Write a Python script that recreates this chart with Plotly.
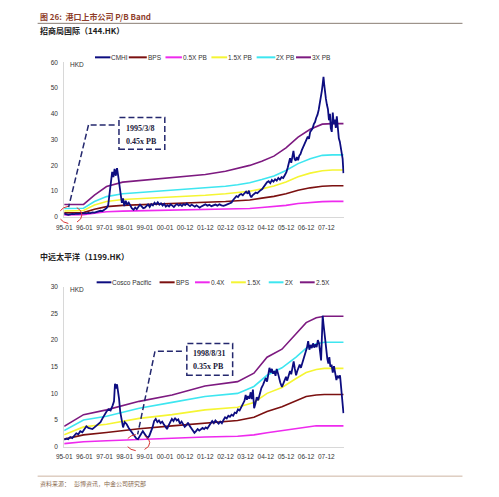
import plotly.graph_objects as go

# ---------------- data ----------------
period_labels = ["95-01", "96-01", "97-01", "98-01", "99-01", "00-01", "00-12",
                 "01-12", "02-12", "03-12", "04-12", "05-12", "06-12", "07-12"]
period_pos = list(range(len(period_labels)))

cmhi_t = [0.0, 0.1, 0.2, 0.3, 0.4, 0.5, 0.6, 0.7, 0.8, 0.9, 1.0, 1.1, 1.2, 1.3, 1.4, 1.5, 1.6, 1.7, 1.8, 1.9,
          2.0, 2.1, 2.18, 2.25, 2.32, 2.38, 2.44, 2.5, 2.56, 2.62, 2.68, 2.74, 2.8, 2.86, 2.92, 2.98, 3.05, 3.12,
          3.2, 3.28, 3.36, 3.44, 3.52, 3.6, 3.68, 3.76, 3.84, 3.92, 4.0, 4.08, 4.16, 4.24, 4.32, 4.4, 4.48, 4.56,
          4.64, 4.72, 4.8, 4.88, 4.96, 5.04, 5.12, 5.2, 5.28, 5.36, 5.44, 5.52, 5.6, 5.68, 5.76, 5.84, 5.92, 6.0,
          6.08, 6.16, 6.24, 6.32, 6.4, 6.48, 6.56, 6.64, 6.72, 6.8, 6.9, 7.0, 7.1, 7.2, 7.3, 7.4, 7.5, 7.6, 7.7,
          7.8, 7.9, 8.0, 8.1, 8.2, 8.3, 8.38, 8.46, 8.54, 8.62, 8.7, 8.78, 8.86, 8.94, 9.02, 9.1, 9.16, 9.22,
          9.28, 9.34, 9.42, 9.5, 9.58, 9.66, 9.74, 9.82, 9.9, 9.98, 10.06, 10.14, 10.22, 10.3, 10.38, 10.46,
          10.54, 10.62, 10.7, 10.78, 10.86, 10.94, 11.02, 11.08, 11.14, 11.2, 11.26, 11.32, 11.37, 11.42, 11.48,
          11.54, 11.6, 11.66, 11.72, 11.78, 11.84, 11.9, 11.96, 12.02, 12.08, 12.14, 12.2, 12.26, 12.32, 12.38,
          12.44, 12.5, 12.56, 12.62, 12.68, 12.74, 12.78, 12.82, 12.86, 12.9, 12.94, 12.98, 13.03, 13.08, 13.13,
          13.18, 13.22, 13.27, 13.32, 13.37, 13.42, 13.47, 13.52, 13.57, 13.62, 13.67, 13.72, 13.77, 13.81, 13.85]
cmhi_price = [1.3, 1.1, 0.8, 1.0, 1.2, 1.1, 1.3, 1.2, 1.4, 1.3, 1.5, 1.4, 1.6, 1.5, 1.8, 1.7, 2.0, 2.1, 2.4, 2.3,
              2.8, 3.4, 4.5, 8.5, 14.0, 17.5, 15.5, 18.6, 16.0, 18.9, 15.8, 11.5, 8.0, 5.5, 7.2, 4.2, 6.3, 4.8,
              5.6, 4.2, 3.3, 2.8, 3.6, 3.0, 3.9, 4.8, 4.1, 3.4, 3.6, 4.2, 4.9, 3.9, 5.0, 4.5, 5.5, 4.9,
              5.7, 4.8, 5.3, 4.4, 5.1, 4.0, 4.6, 4.1, 4.9, 4.4, 3.9, 4.6, 5.0, 4.4, 4.9, 4.3, 5.0, 4.6,
              5.2, 4.7, 4.2, 4.8, 4.4, 4.0, 4.5, 4.0, 3.6, 4.1, 4.5, 4.9, 4.4, 4.7, 4.2, 4.5, 4.8, 4.4, 4.9,
              4.5, 4.3, 4.6, 4.9, 5.3, 5.6, 6.6, 7.6, 8.1, 7.7, 8.6, 8.9, 8.4, 9.2, 9.8, 9.0, 10.2, 8.5,
              7.6, 8.4, 8.9, 9.5, 9.2, 10.0, 10.4, 10.8, 11.6, 12.8, 13.5, 13.9, 13.1, 14.3, 13.7, 14.6,
              14.1, 15.1, 14.5, 15.4, 15.1, 16.2, 17.4, 19.0, 20.5, 22.8, 21.0, 24.0, 25.6, 22.6, 21.8,
              23.2, 22.0, 23.8, 24.4, 25.8, 26.9, 27.8, 28.6, 29.8, 31.2, 30.3, 33.0, 33.6, 34.4, 36.0,
              36.8, 38.5, 39.6, 41.5, 43.8, 46.5, 49.0, 51.5, 54.3, 51.0, 47.0, 45.8, 43.5, 41.8, 37.5,
              40.0, 34.5, 33.0, 40.5, 36.0, 37.8, 34.5, 39.0, 33.5, 30.5, 29.2, 26.8, 25.6, 22.5, 17.0]

cmhi_band_t = [0, 0.5, 0.96, 1.5, 2.1, 2.9, 4.0, 5.0, 6.0, 7.0, 8.0, 8.6, 9.2, 9.8, 10.4, 11.0, 11.6, 12.2, 12.8, 13.3, 13.85]
cmhi_bps = [1.6, 1.6, 1.7, 3.0, 4.0, 4.5, 4.8, 5.0, 5.3, 5.6, 6.0, 6.3, 6.6, 7.3, 8.0, 9.0, 10.4, 11.3, 11.9, 12.1, 12.1]
cmhi_pb05 = [0.8, 0.8, 0.85, 1.5, 2.0, 2.25, 2.4, 2.5, 2.65, 2.8, 3.0, 3.15, 3.3, 3.65, 4.0, 4.5, 5.2, 5.65, 5.95, 6.05, 6.05]
cmhi_pb15 = [2.3, 2.3, 2.5, 4.6, 6.0, 6.8, 7.2, 7.6, 8.0, 8.4, 9.0, 9.4, 10.0, 10.9, 12.0, 13.6, 15.6, 17.0, 17.9, 18.2, 18.2]
cmhi_pb2 = [3.3, 3.3, 3.4, 6.0, 7.9, 9.0, 9.6, 10.1, 10.6, 11.1, 11.9, 12.5, 13.3, 14.5, 15.9, 18.0, 20.7, 22.6, 23.9, 24.1, 24.1]
cmhi_pb3 = [4.85, 4.85, 4.9, 8.5, 11.8, 13.5, 14.3, 15.1, 15.8, 16.5, 17.7, 18.8, 20.0, 21.6, 23.6, 26.8, 31.0, 34.0, 36.0, 36.2, 36.2]

cosco_t = [0.0, 0.1, 0.2, 0.3, 0.4, 0.5, 0.6, 0.7, 0.8, 0.9, 1.0, 1.1, 1.2, 1.3, 1.4, 1.5, 1.6, 1.7, 1.8, 1.9,
           2.0, 2.1, 2.2, 2.3, 2.4, 2.47, 2.52, 2.57, 2.62, 2.67, 2.72, 2.78, 2.85, 2.92, 3.0, 3.1, 3.2, 3.3,
           3.4, 3.5, 3.58, 3.66, 3.74, 3.82, 3.9, 3.97, 4.05, 4.13, 4.22, 4.3, 4.38, 4.46, 4.54, 4.62, 4.7,
           4.78, 4.86, 4.94, 5.02, 5.1, 5.18, 5.26, 5.34, 5.42, 5.5, 5.58, 5.66, 5.74, 5.82, 5.9, 5.98, 6.06,
           6.14, 6.22, 6.3, 6.38, 6.46, 6.54, 6.62, 6.7, 6.78, 6.86, 6.94, 7.02, 7.1, 7.18, 7.26, 7.34, 7.42,
           7.5, 7.58, 7.66, 7.74, 7.82, 7.9, 7.98, 8.06, 8.14, 8.22, 8.3, 8.38, 8.46, 8.54, 8.62, 8.7, 8.78,
           8.86, 8.94, 9.0, 9.06, 9.12, 9.18, 9.25, 9.3, 9.36, 9.42, 9.48, 9.55, 9.62, 9.7, 9.78, 9.86, 9.94,
           10.0, 10.06, 10.12, 10.18, 10.24, 10.3, 10.36, 10.42, 10.48, 10.54, 10.6, 10.66, 10.72, 10.8, 10.86,
           10.92, 11.0, 11.06, 11.12, 11.2, 11.26, 11.32, 11.38, 11.44, 11.5, 11.56, 11.62, 11.68, 11.74, 11.8,
           11.86, 11.92, 11.98, 12.04, 12.1, 12.16, 12.22, 12.28, 12.34, 12.4, 12.46, 12.52, 12.58, 12.64, 12.7,
           12.74, 12.78, 12.82, 12.86, 12.9, 12.95, 13.0, 13.05, 13.1, 13.15, 13.2, 13.26, 13.32, 13.38, 13.44,
           13.5, 13.56, 13.62, 13.68, 13.72, 13.76, 13.8, 13.85]
cosco_price = [1.3, 1.5, 1.4, 1.8, 1.6, 2.0, 2.5, 2.3, 2.9, 2.7, 3.3, 3.8, 3.5, 3.4, 3.3, 3.6, 3.9, 4.2, 4.6, 5.3,
               6.0, 6.6, 7.0, 6.8, 7.7, 8.5, 11.8, 10.9, 11.7, 10.4, 9.0, 6.5, 4.8, 3.6, 4.6, 4.2, 3.5, 3.0,
               2.5, 2.0, 1.5, 1.4, 1.8, 2.4, 2.9, 2.5, 2.1, 1.6, 2.0, 2.7, 3.6, 4.8, 5.2, 4.6, 4.9,
               4.4, 4.7, 4.2, 3.7, 3.3, 4.0, 4.6, 5.2, 4.8, 5.4, 4.9, 5.1, 4.3, 4.7, 4.2, 3.7, 4.0,
               4.5, 3.9, 3.4, 3.1, 2.6, 2.9, 3.3, 3.0, 3.2, 3.5, 3.3, 3.6, 3.4, 3.9, 4.3, 4.8, 4.4,
               4.9, 4.6, 4.3, 4.7, 4.4, 5.0, 5.5, 5.3, 5.8, 5.6, 6.0, 5.8, 6.4, 6.3, 7.0, 6.8, 7.4,
               7.9, 8.6, 9.7, 8.8, 9.5, 9.0, 10.2, 8.9, 10.7, 7.2, 8.0, 9.3, 8.7, 10.2, 11.0, 11.6, 12.4,
               12.9, 12.2, 13.6, 14.8, 13.9, 14.6, 13.7, 14.2, 13.3, 14.6, 13.8, 12.6, 12.0, 11.2, 11.8,
               12.6, 13.1, 12.4, 13.4, 14.2, 13.6, 14.8, 16.0, 14.6, 13.4, 14.2, 15.0, 15.4, 14.8, 15.6,
               15.9, 16.7, 17.8, 18.6, 19.8, 18.2, 19.1, 18.5, 19.4, 18.6, 19.2, 18.7, 20.0, 19.4, 17.5,
               16.2, 20.5, 24.6, 23.0, 21.5, 19.8, 17.8, 16.5, 15.6, 16.8, 15.0, 15.4, 13.9, 15.1, 13.8,
               12.5, 13.3, 12.9, 13.4, 11.9, 11.0, 9.2, 6.3]

cosco_band_t = [0, 0.96, 2.1, 3.72, 5.35, 6.98, 8.6, 9.41, 10.06, 10.8, 11.5, 12.0, 12.5, 12.9, 13.85]
cosco_bps = [1.4, 2.2, 2.65, 3.35, 3.9, 4.45, 4.9, 5.5, 6.6, 7.5, 8.6, 9.4, 9.7, 9.8, 9.8]
cosco_pb04 = [0.56, 0.9, 1.1, 1.35, 1.55, 1.8, 1.95, 2.2, 2.6, 3.0, 3.4, 3.75, 3.9, 3.9, 3.9]
cosco_pb15 = [2.2, 3.7, 4.2, 5.3, 6.0, 6.9, 7.4, 8.3, 10.0, 11.1, 12.8, 13.9, 14.5, 14.7, 14.7]
cosco_pb2 = [3.0, 5.0, 5.7, 7.2, 8.3, 9.4, 10.0, 11.3, 13.4, 14.8, 16.8, 18.5, 19.3, 19.6, 19.6]
cosco_pb25 = [3.8, 6.0, 6.9, 8.5, 9.7, 11.4, 12.2, 13.8, 16.8, 18.3, 21.2, 23.3, 24.2, 24.5, 24.5]

# ---------------- styling ----------------
# The page keeps the browser's default 8px body margin, so the figure is
# 16px smaller than the 499x497 window and every position is measured in page pixels.
PAGE_W, PAGE_H, BODY_MARGIN = 499, 497, 8
W, H = PAGE_W - 2 * BODY_MARGIN, PAGE_H - 2 * BODY_MARGIN
C_PRICE = "#0d0d80"
C_BPS = "#7b1010"
C_LOW = "#ee2aee"
C_15 = "#f5f533"
C_2 = "#3ee6f0"
C_HIGH = "#7d1a80"
SANS = "Liberation Sans, Arial, sans-serif"
SERIF = "Liberation Serif, Times New Roman, serif"
CJK = "Noto Sans CJK SC, sans-serif"


def X(px):
    return (px - BODY_MARGIN) / W


def Y(py):
    return 1 - (py - BODY_MARGIN) / H


fig = go.Figure()

top_series = [
    ("0.5X PB", cmhi_band_t, cmhi_pb05, C_LOW, 1.6),
    ("BPS", cmhi_band_t, cmhi_bps, C_BPS, 1.6),
    ("1.5X PB", cmhi_band_t, cmhi_pb15, C_15, 1.6),
    ("2X PB", cmhi_band_t, cmhi_pb2, C_2, 1.6),
    ("3X PB", cmhi_band_t, cmhi_pb3, C_HIGH, 1.6),
    ("CMHI", cmhi_t, cmhi_price, C_PRICE, 1.8),
]
for name, t, v, c, w in top_series:
    fig.add_trace(go.Scatter(x=t, y=v, name=name, mode="lines", line=dict(color=c, width=w),
                             xaxis="x", yaxis="y", showlegend=False, hoverinfo="skip"))

bottom_series = [
    ("0.4X", cosco_band_t, cosco_pb04, C_LOW, 1.6),
    ("BPS", cosco_band_t, cosco_bps, C_BPS, 1.6),
    ("1.5X", cosco_band_t, cosco_pb15, C_15, 1.6),
    ("2X", cosco_band_t, cosco_pb2, C_2, 1.6),
    ("2.5X", cosco_band_t, cosco_pb25, C_HIGH, 1.6),
    ("Cosco Pacific", cosco_t, cosco_price, C_PRICE, 1.8),
]
for name, t, v, c, w in bottom_series:
    fig.add_trace(go.Scatter(x=t, y=v, name=name, mode="lines", line=dict(color=c, width=w),
                             xaxis="x2", yaxis="y2", showlegend=False, hoverinfo="skip"))

tickfont = dict(family=SANS, size=6.5, color="#333333")
xcommon = dict(tickvals=period_pos, ticktext=period_labels, range=[0, 13.9],
               showgrid=False, zeroline=False, showline=True, linecolor="#d8d8d8", linewidth=1,
               ticks="outside", ticklen=4, tickcolor="rgba(0,0,0,0)", tickfont=tickfont, fixedrange=True)
ycommon = dict(showgrid=False, zeroline=False, showline=True, linecolor="#d8d8d8", linewidth=1,
               ticks="outside", ticklen=4, tickcolor="rgba(0,0,0,0)", tickfont=tickfont, fixedrange=True)

fig.update_layout(
    width=W, height=H, autosize=False,
    margin=dict(l=0, r=0, t=0, b=0),
    paper_bgcolor="white", plot_bgcolor="white",
    xaxis=dict(domain=[X(57), X(342)], anchor="y", **xcommon),
    yaxis=dict(domain=[Y(216), Y(59)], anchor="x", range=[0, 60], tickvals=[0, 10, 20, 30, 40, 50, 60], **ycommon),
    xaxis2=dict(domain=[X(57), X(342)], anchor="y2", **xcommon),
    yaxis2=dict(domain=[Y(449), Y(287)], anchor="x2", range=[0, 30], tickvals=[0, 5, 10, 15, 20, 25, 30], **ycommon),
)

shapes = []
annotations = []


def text(px, py, s, size=6.5, color="#333333", family=SANS, xanchor="left"):
    annotations.append(dict(x=X(px), y=Y(py), xref="paper", yref="paper", text=s, showarrow=False,
                            xanchor=xanchor, yanchor="middle", font=dict(family=family, size=size, color=color)))


def hline(x0, x1, y, color, width=1.0, dash="solid"):
    shapes.append(dict(type="line", xref="paper", yref="paper", x0=X(x0), x1=X(x1), y0=Y(y), y1=Y(y),
                       line=dict(color=color, width=width, dash=dash)))


def seg(x0, y0, x1, y1, color, width=1.0, dash="solid"):
    shapes.append(dict(type="line", xref="paper", yref="paper", x0=X(x0), x1=X(x1), y0=Y(y0), y1=Y(y1),
                       line=dict(color=color, width=width, dash=dash)))


# header
text(30, 13, "<b>图 26:  港口上市公司 P/B Band</b>", size=8, color="#8e3d2a", family=CJK)
hline(30, 462, 19.5, "#8a7d74", 1)
text(30, 27, "<b>招商局国际（144.HK）</b>", size=8, color="#222222", family=CJK)
text(30, 256, "<b>中远太平洋（1199.HK）</b>", size=8, color="#222222", family=CJK)
hline(30, 462, 479, "#cdb4a2", 1)
text(30, 486, "资料来源：   彭博资讯，中金公司研究部", size=6, color="#8a6a50", family=CJK)

# units
text(61, 61, "HKD", size=6.5)
text(61, 289.5, "HKD", size=6.5)

# manual legends
top_leg = [("CMHI", C_PRICE, 88.3, 104), ("BPS", C_BPS, 122.7, 141), ("0.5X PB", C_LOW, 160, 176.7),
           ("1.5X PB", C_15, 206.7, 222.7), ("2X PB", C_2, 252.7, 271.7), ("3X PB", C_HIGH, 292.7, 308)]
for name, c, a, b in top_leg:
    hline(a, b, 54, c, 2)
    text(b - 1, 54, name, size=6.5)
bot_leg = [("Cosco Pacific", C_PRICE, 90, 105), ("BPS", C_BPS, 154, 169.3), ("0.4X", C_LOW, 190, 205),
           ("1.5X", C_15, 226.7, 241.7), ("2X", C_2, 265, 280), ("2.5X", C_HIGH, 296.7, 311.7)]
for name, c, a, b in bot_leg:
    hline(a, b, 282.3, c, 2)
    text(b - 1, 282.3, name, size=6.5)

# callouts
NAVY = "#24286e"
RED = "#d93333"
shapes.append(dict(type="circle", xref="paper", yref="paper", x0=X(51.7), x1=X(75), y0=Y(222.7), y1=Y(205),
                   line=dict(color=RED, width=1, dash="dash")))
seg(108.3, 122.7, 81.7, 122.7, NAVY, 1.5, "6px,3px")
seg(81.7, 122.7, 61.5, 206, NAVY, 1.5, "6px,3px")
shapes.append(dict(type="rect", xref="paper", yref="paper", x0=X(112.7), x1=X(159.3), y0=Y(147.3), y1=Y(115),
                   line=dict(color=NAVY, width=1.5, dash="6px,3px"), fillcolor="white"))
text(118, 126, "<b>1995/3/8</b>", size=8, color="#1a1a3a", family=SERIF)
text(118, 139, "<b>0.45x PB</b>", size=8, color="#1a1a3a", family=SERIF)

shapes.append(dict(type="circle", xref="paper", yref="paper", x0=X(120), x1=X(144), y0=Y(453.3), y1=Y(436.7),
                   line=dict(color=RED, width=1, dash="dash")))
seg(176.7, 352.3, 149.3, 352.3, NAVY, 1.5, "6px,3px")
seg(149.3, 352.3, 131.7, 436.7, NAVY, 1.5, "6px,3px")
shapes.append(dict(type="rect", xref="paper", yref="paper", x0=X(181.7), x1=X(228.3), y0=Y(376.7), y1=Y(344.3),
                   line=dict(color=NAVY, width=1.5, dash="6px,3px"), fillcolor="white"))
text(186, 355, "<b>1998/8/31</b>", size=8, color="#1a1a3a", family=SERIF)
text(186, 367.7, "<b>0.35x PB</b>", size=8, color="#1a1a3a", family=SERIF)

fig.update_layout(shapes=shapes, annotations=annotations, hovermode=False)
fig.write_html("out.html", config={"displayModeBar": False, "staticPlot": True})
